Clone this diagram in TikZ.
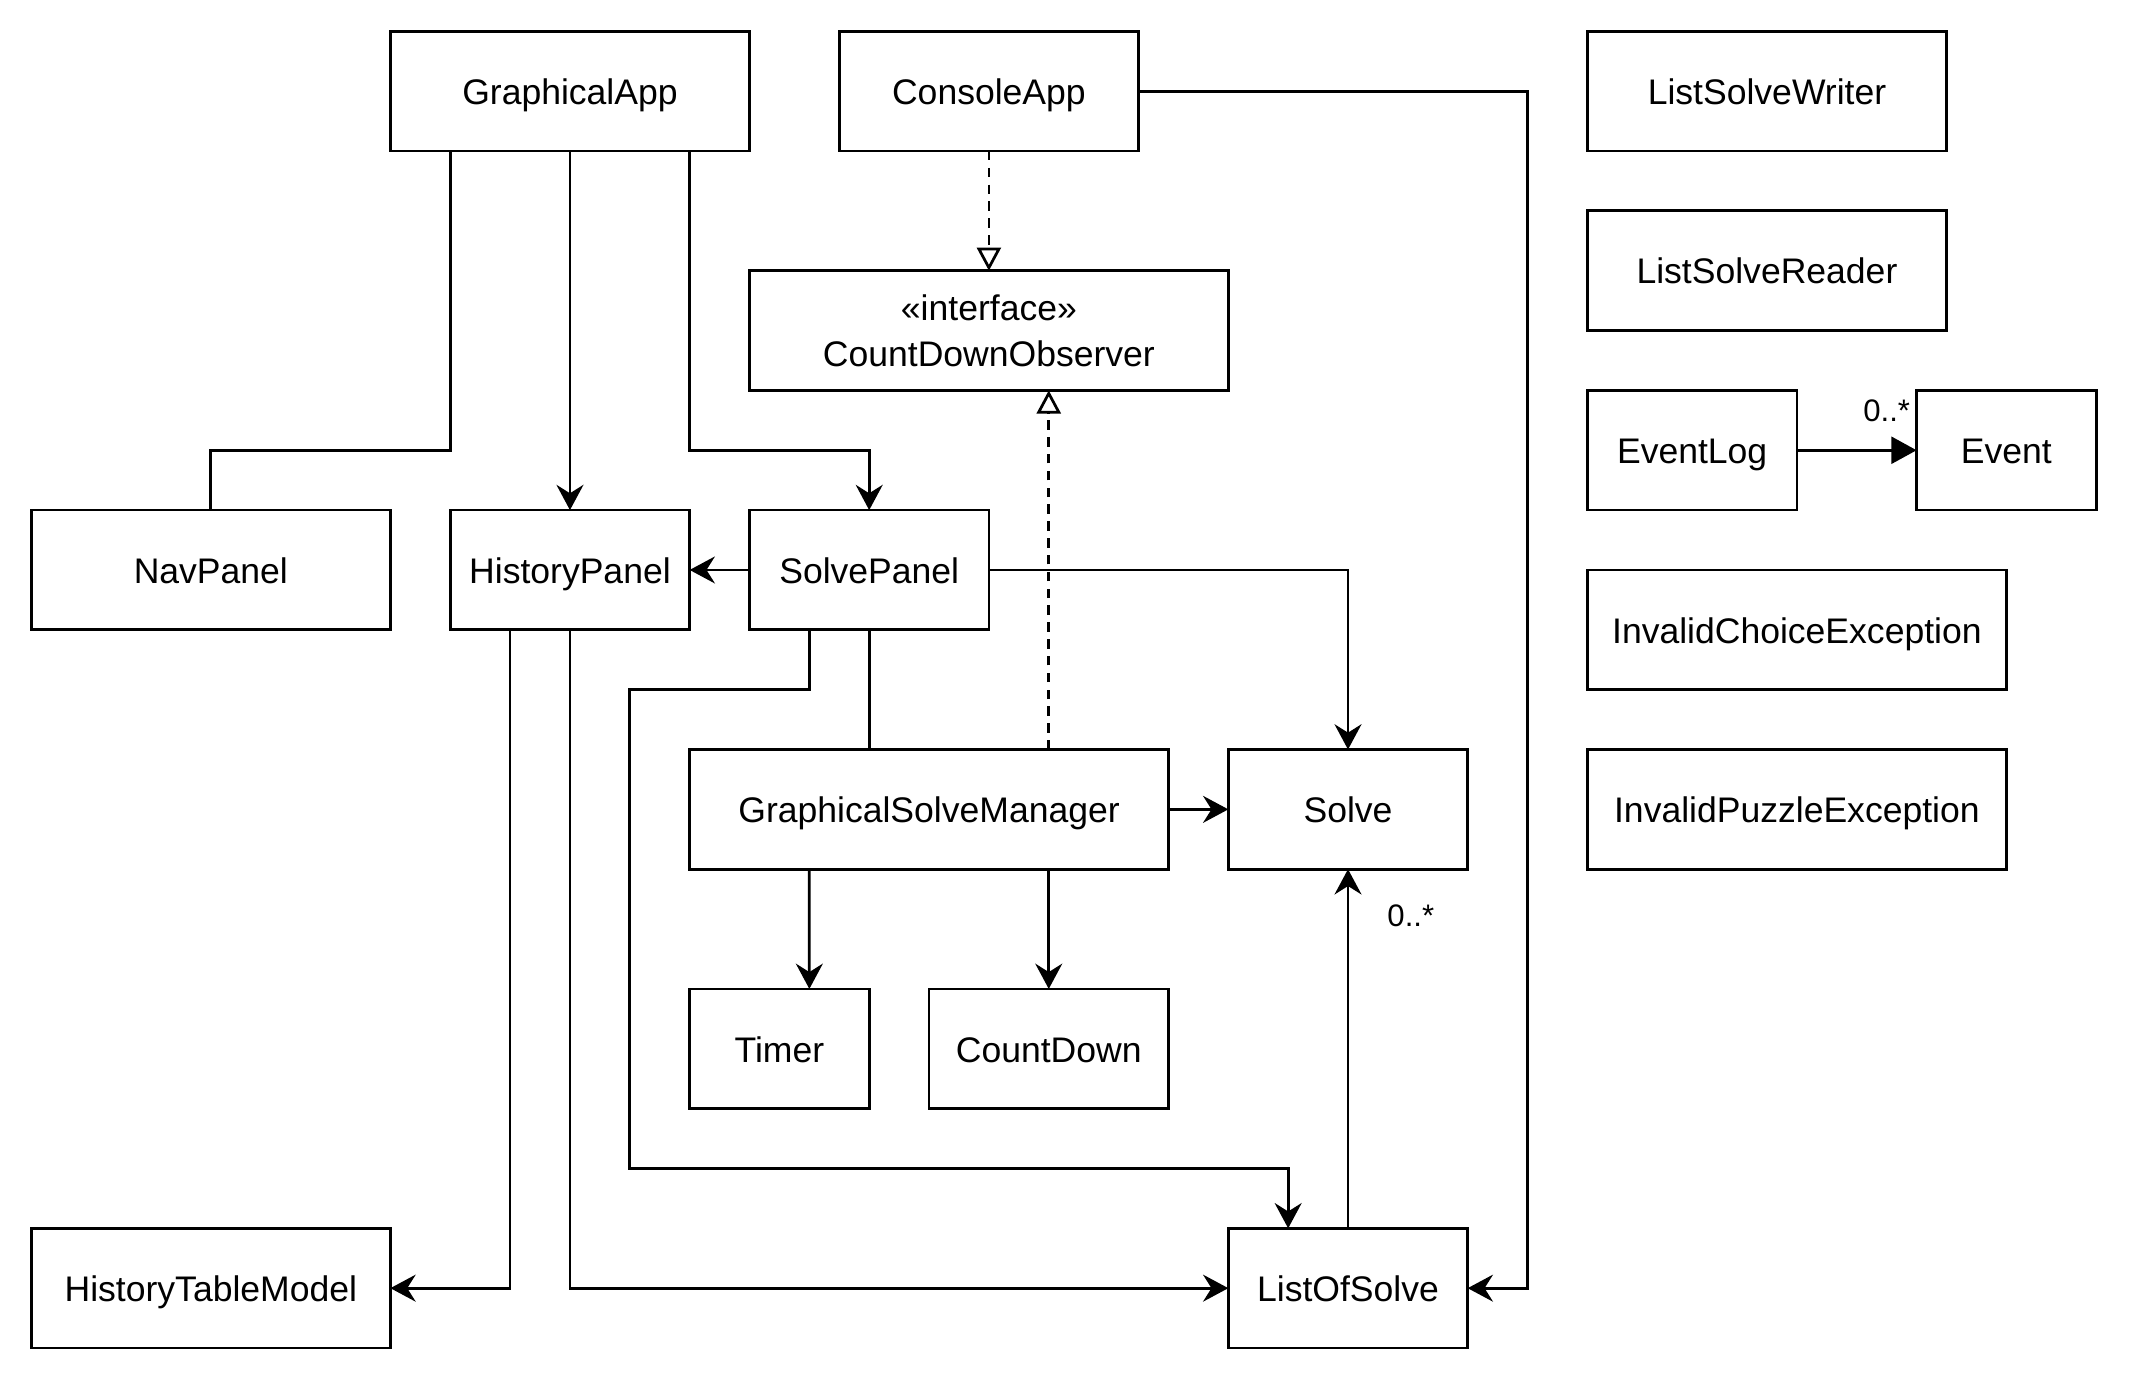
\documentclass[tikz,border=0pt]{standalone}
\usepackage{fontspec}
\setmainfont{Liberation Sans}
\usetikzlibrary{arrows.meta,calc}
\begin{document}
\begin{tikzpicture}[x=1cm,y=-1cm,
  box/.style={draw, line width=1.3pt, inner sep=0pt, outer sep=0pt, font=\fontsize{16.9}{21.8}\selectfont, align=center, minimum height=2cm},
  one/.style={text height=14.3pt, text depth=1.7pt},
  conn/.style={line width=1.3pt},
  arr/.style={conn, -{Stealth[length=12pt,width=12.8pt,inset=4pt]}},
  real/.style={conn, dash pattern=on 4.5pt off 3.5pt, -{Triangle[open,length=11pt,width=11.4pt,fill=white]}},
  tri/.style={conn, -{Triangle[length=12pt,width=12.8pt]}},
  lbl/.style={font=\fontsize{14.8}{17}\selectfont, inner sep=0pt}]
\useasboundingbox (-0.523,-0.523) rectangle (35.116,22.585);
% classes
\node[box, one, minimum width=6cm] (ga) at (9,1) {GraphicalApp};
\node[box, one, minimum width=5cm] (ca) at (16,1) {ConsoleApp};
\node[box, one, minimum width=6cm] (lsw) at (29,1) {ListSolveWriter};
\node[box, one, minimum width=6cm] (lsr) at (29,4) {ListSolveReader};
\node[box, minimum width=8cm] (cdo) at (16,5) {«interface»\\CountDownObserver};
\node[box, one, minimum width=3.5cm] (el) at (27.75,7) {EventLog};
\node[box, one, minimum width=3cm] (ev) at (33,7) {Event};
\node[box, one, minimum width=6cm] (nav) at (3,9) {NavPanel};
\node[box, one, minimum width=4cm] (hp) at (9,9) {HistoryPanel};
\node[box, one, minimum width=4cm] (sp) at (14,9) {SolvePanel};
\node[box, one, minimum width=7cm] (ice) at (29.5,10) {InvalidChoiceException};
\node[box, one, minimum width=8cm] (gsm) at (15,13) {GraphicalSolveManager};
\node[box, one, minimum width=4cm] (solve) at (22,13) {Solve};
\node[box, one, minimum width=7cm] (ipe) at (29.5,13) {InvalidPuzzleException};
\node[box, one, minimum width=3cm] (timer) at (12.5,17) {Timer};
\node[box, one, minimum width=4cm] (cd) at (17,17) {CountDown};
\node[box, one, minimum width=6cm] (htm) at (3,21) {HistoryTableModel};
\node[box, one, minimum width=4cm] (los) at (22,21) {ListOfSolve};
% connectors
\draw[conn] (ga.south -| hp.west) -- ++(0,5) -| (nav.north);
\draw[arr] (ga.south -| hp.north) -- (hp.north);
\draw[arr] (ga.south -| gsm.west) -- ++(0,5) -| (sp.north);
\draw[real] (ca.south) -- (cdo.north);
\draw[arr] (ca.east) -- ++(6.5,0) |- (los.east);
\draw[arr] (sp.west) -- (hp.east);
\draw[arr] (sp.east) -| (solve.north);
\draw[conn] (sp.south) -- (sp.south |- gsm.north);
\draw[arr] ([xshift=1cm]sp.south west) |- ++(-3,1) -- ++(0,8) -| ([xshift=1cm]los.north west);
\draw[real] ([xshift=6cm]gsm.north west) -- ([xshift=5cm]cdo.south west);
\draw[arr] (gsm.east) -- (solve.west);
\draw[arr] ([xshift=2cm]gsm.south west) -- ([xshift=0.5cm]timer.north);
\draw[arr] (gsm.south -| cd.north) -- (cd.north);
\draw[arr] (los.north) -- (solve.south);
\node[lbl] (m1) at ([shift={(1.05,0.77)}]solve.south) {0..*};
\draw[arr] ([xshift=1cm]hp.south west) |- (htm.east);
\draw[arr] (hp.south) |- (los.west);
\draw[tri] (el.east) -- (ev.west);
\node[lbl] (m2) at ([shift={(-0.5,-0.66)}]ev.west) {0..*};
\end{tikzpicture}
\end{document}
